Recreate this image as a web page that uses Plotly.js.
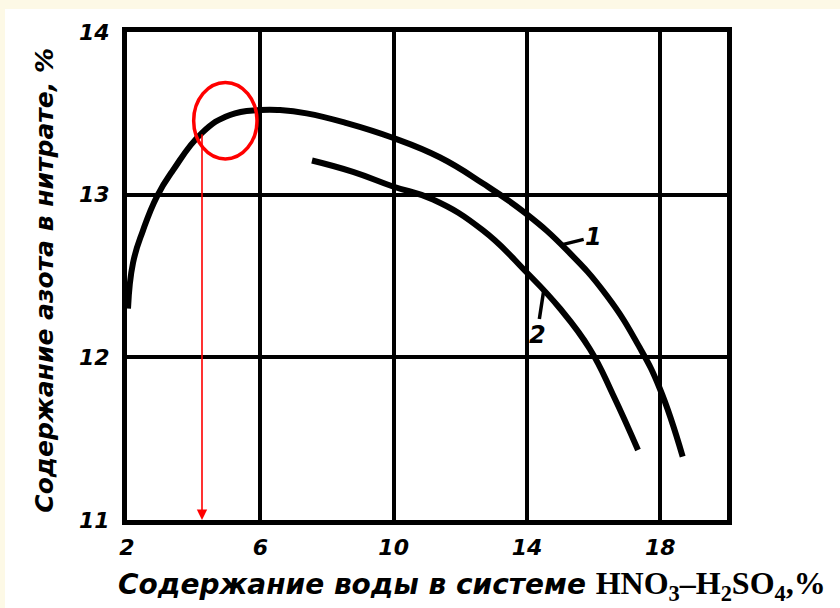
<!DOCTYPE html>
<html>
<head>
<meta charset="utf-8">
<script src="https://cdn.plot.ly/plotly-3.0.1.min.js"></script>
<style>
  html, body { margin: 0; padding: 0; background: #fdf9e6; }
  #chart { position: absolute; left: 5px; top: 9px; width: 835px; height: 599px; }
</style>
</head>
<body>
<div id="chart"></div>
<script>
// curve 1
const water1 = [2.03, 2.18, 2.48, 2.9, 3.38, 4.25, 5.09, 5.99, 6.59, 7.39, 8.59, 9.97, 11.38, 12.67, 13.99, 15.19, 16.39, 17.38, 17.98, 18.67];
const nitrogen1 = [12.3, 12.58, 12.78, 12.99, 13.15, 13.38, 13.49, 13.52, 13.52, 13.5, 13.44, 13.35, 13.23, 13.07, 12.88, 12.66, 12.38, 12.06, 11.81, 11.39];

// curve 2
const water2 = [7.55, 8.78, 9.98, 11.18, 12.68, 14.0, 14.99, 15.89, 16.58, 17.33];
const nitrogen2 = [13.21, 13.14, 13.05, 12.97, 12.78, 12.52, 12.3, 12.05, 11.77, 11.43];

// axis ticks
const xTicks = [2, 6, 10, 14, 18];
const yTicks = [11, 12, 13, 14];

// curve number labels: point on curve, label position
const curveLabels = ['1', '2'];
const labelTipX = [15.0, 14.5];
const labelTipY = [12.69, 12.41];
const labelTextX = [16.0, 14.3];
const labelTextY = [12.74, 12.14];

// red mark drawn on top of the scan
const markX = 4.25;
const markTop = 13.38;
const ringX = [4.0, 5.9];
const ringY = [13.22, 13.69];

const handFont = { family: 'DejaVu Sans', weight: 'bold', style: 'italic', color: '#000' };

const traces = [
    {
        x: water1, y: nitrogen1, type: 'scatter', mode: 'lines',
        line: { color: '#000', width: 6, shape: 'spline', smoothing: 1.3 },
        hoverinfo: 'skip'
    },
    {
        x: water2, y: nitrogen2, type: 'scatter', mode: 'lines',
        line: { color: '#000', width: 6, shape: 'spline', smoothing: 1.3 },
        hoverinfo: 'skip'
    }
];

const annotations = [];

// curve numbers with short leader strokes
curveLabels.forEach((label, i) => {
    annotations.push({
        x: labelTipX[i], y: labelTipY[i], xref: 'x', yref: 'y',
        ax: labelTextX[i], ay: labelTextY[i], axref: 'x', ayref: 'y',
        text: label, showarrow: true, arrowhead: 0, arrowwidth: 3.5, arrowcolor: '#000',
        font: Object.assign({}, handFont, { size: 24 })
    });
});

// red arrow down to the x axis
annotations.push({
    x: markX, y: yTicks[0], xref: 'x', yref: 'y',
    ax: markX, ay: markTop, axref: 'x', ayref: 'y',
    text: '', showarrow: true, arrowhead: 2, arrowsize: 1.3, arrowwidth: 1.6,
    arrowcolor: '#ff0000', standoff: 0
});

// axis titles
annotations.push({
    text: 'Содержание азота в нитрате, %',
    xref: 'paper', yref: 'paper', x: -0.137, y: 0.492,
    xanchor: 'center', yanchor: 'middle', textangle: -90, showarrow: false,
    font: Object.assign({}, handFont, { size: 25 })
});
annotations.push({
    text: 'Содержание воды в системе <span style="font-family:Liberation Serif;font-style:normal;font-size:32px">HNO<sub>3</sub>–H<sub>2</sub>SO<sub>4</sub>,%</span>',
    xref: 'paper', yref: 'paper', x: 0.575, y: -0.135,
    xanchor: 'center', yanchor: 'middle', showarrow: false,
    font: Object.assign({}, handFont, { size: 28 })
});

const layout = {
    width: 835,
    height: 599,
    paper_bgcolor: '#ffffff',
    plot_bgcolor: '#ffffff',
    margin: { l: 122, r: 113, t: 23, b: 88 },
    showlegend: false,
    xaxis: {
        range: [2, 20],
        tickvals: xTicks,
        ticktext: xTicks.map(String),
        showgrid: true, gridcolor: '#000', gridwidth: 4,
        showline: true, linecolor: '#000', linewidth: 5, mirror: true,
        zeroline: false, ticks: '', ticklabelstandoff: 4,
        tickfont: Object.assign({}, handFont, { size: 22 })
    },
    yaxis: {
        range: [11, 14],
        tickvals: yTicks,
        ticktext: yTicks.map(String),
        showgrid: true, gridcolor: '#000', gridwidth: 4,
        showline: true, linecolor: '#000', linewidth: 5, mirror: true,
        zeroline: false, ticks: '', ticklabelstandoff: 8,
        tickfont: Object.assign({}, handFont, { size: 22 })
    },
    shapes: [
        {
            type: 'circle', xref: 'x', yref: 'y',
            x0: ringX[0], x1: ringX[1], y0: ringY[0], y1: ringY[1],
            line: { color: '#ff0000', width: 3.5 }
        }
    ],
    annotations: annotations
};

Plotly.newPlot('chart', traces, layout, { displayModeBar: false, staticPlot: true });
</script>
</body>
</html>
